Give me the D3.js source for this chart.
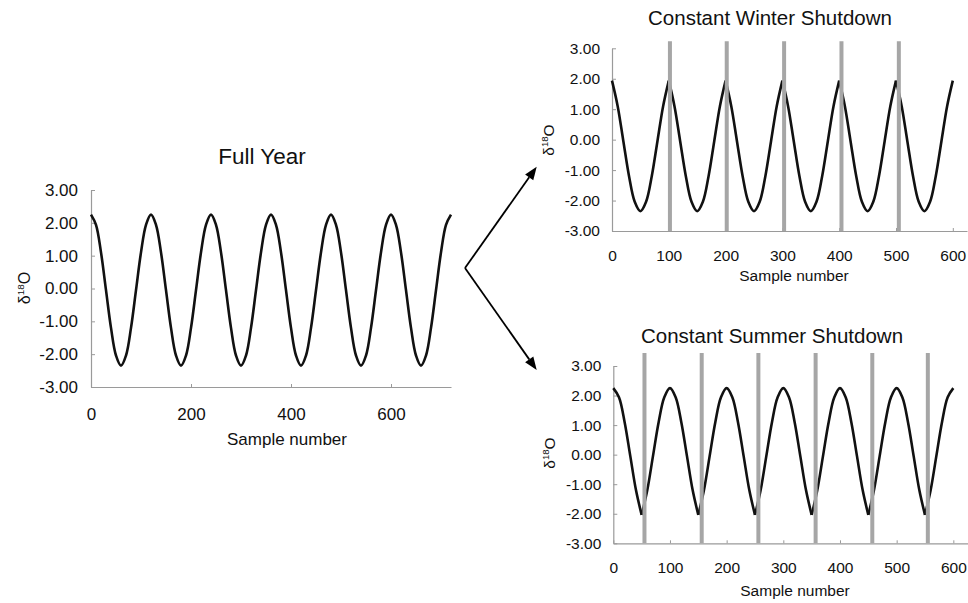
<!DOCTYPE html>
<html><head><meta charset="utf-8">
<script src="https://cdn.jsdelivr.net/npm/d3@7"></script>
<style>html,body{margin:0;padding:0;background:#fff;} svg{display:block;}</style>
</head><body><svg id="c" width="968" height="603"></svg>
<script>
// ---------- data ----------
const yTicks = [-3, -2, -1, 0, 1, 2, 3];
const fullYearXTicks = [0, 200, 400, 600];
const shutdownXTicks = [0, 100, 200, 300, 400, 500, 600];
const sampleStep = 10;

// delta18O, one value every 10 samples, samples 0..720
const fullYearValues = [
  2.25, 1.94, 1.10, -0.05, -1.20, -2.04, -2.35, -2.04, -1.20, -0.05, 1.10, 1.94,
  2.25, 1.94, 1.10, -0.05, -1.20, -2.04, -2.35, -2.04, -1.20, -0.05, 1.10, 1.94,
  2.25, 1.94, 1.10, -0.05, -1.20, -2.04, -2.35, -2.04, -1.20, -0.05, 1.10, 1.94,
  2.25, 1.94, 1.10, -0.05, -1.20, -2.04, -2.35, -2.04, -1.20, -0.05, 1.10, 1.94,
  2.25, 1.94, 1.10, -0.05, -1.20, -2.04, -2.35, -2.04, -1.20, -0.05, 1.10, 1.94,
  2.25, 1.94, 1.10, -0.05, -1.20, -2.04, -2.35, -2.04, -1.20, -0.05, 1.10, 1.94,
  2.25
];

// samples 0..600
const winterValues = [
  1.94, 1.10, -0.05, -1.20, -2.04, -2.35, -2.04, -1.20, -0.05, 1.10,
  1.94, 1.10, -0.05, -1.20, -2.04, -2.35, -2.04, -1.20, -0.05, 1.10,
  1.94, 1.10, -0.05, -1.20, -2.04, -2.35, -2.04, -1.20, -0.05, 1.10,
  1.94, 1.10, -0.05, -1.20, -2.04, -2.35, -2.04, -1.20, -0.05, 1.10,
  1.94, 1.10, -0.05, -1.20, -2.04, -2.35, -2.04, -1.20, -0.05, 1.10,
  1.94, 1.10, -0.05, -1.20, -2.04, -2.35, -2.04, -1.20, -0.05, 1.10,
  1.94
];
const winterBreaks = [100, 200, 300, 400, 500];
const winterShutdowns = [102, 202, 303, 404, 505];

// samples 0..600
const summerValues = [
  2.25, 1.94, 1.10, -0.05, -1.20, -2.04, -1.20, -0.05, 1.10, 1.94,
  2.25, 1.94, 1.10, -0.05, -1.20, -2.04, -1.20, -0.05, 1.10, 1.94,
  2.25, 1.94, 1.10, -0.05, -1.20, -2.04, -1.20, -0.05, 1.10, 1.94,
  2.25, 1.94, 1.10, -0.05, -1.20, -2.04, -1.20, -0.05, 1.10, 1.94,
  2.25, 1.94, 1.10, -0.05, -1.20, -2.04, -1.20, -0.05, 1.10, 1.94,
  2.25, 1.94, 1.10, -0.05, -1.20, -2.04, -1.20, -0.05, 1.10, 1.94,
  2.25
];
const summerBreaks = [50, 150, 250, 350, 450, 550];
const summerShutdowns = [55, 156, 256, 357, 457, 555];

const titles = ["Full Year", "Constant Winter Shutdown", "Constant Summer Shutdown"];
const xLabel = "Sample number";

// ---------- layout ----------
const FONT = "'Liberation Sans', Arial, Helvetica, sans-serif";
const panels = [
  { title: titles[0], values: fullYearValues, breaks: [], shutdowns: [], xTicks: fullYearXTicks,
    xMax: 720, left: 91, right: 451, top: 190, bottom: 387,
    tickFont: 17, titleFont: 22.5, labelFont: 17, yPad: 13, xPad: 21,
    titleX: 262, titleY: 164, xLabX: 287, xLabY: 445, yLabX: 30, yLabY: 288, yLabFont: 16, barExtra: 0 },
  { title: titles[1], values: winterValues, breaks: winterBreaks, shutdowns: winterShutdowns, xTicks: shutdownXTicks,
    xMax: 625, left: 612, right: 967, top: 48.3, bottom: 231,
    tickFont: 15.5, titleFont: 20.5, labelFont: 15.5, yPad: 12, xPad: 19,
    titleX: 770, titleY: 25, xLabX: 794, xLabY: 281, yLabX: 554, yLabY: 140, yLabFont: 15.5, barExtra: 7 },
  { title: titles[2], values: summerValues, breaks: summerBreaks, shutdowns: summerShutdowns, xTicks: shutdownXTicks,
    xMax: 625, left: 613.3, right: 967.5, top: 366, bottom: 543.3,
    tickFont: 15.5, titleFont: 20.5, labelFont: 15.5, yPad: 12, xPad: 18.5,
    titleX: 772, titleY: 343, xLabX: 795, xLabY: 596, yLabX: 555, yLabY: 453, yLabFont: 15.5, barExtra: 13 }
];

const svg = d3.select("#c");
svg.append("rect").attr("width", 968).attr("height", 603).attr("fill", "#fff");

function splitSegments(points, breaks) {
  const cuts = [0, ...breaks, Infinity];
  const segs = [];
  for (let i = 0; i < cuts.length - 1; i++) {
    const s = points.filter(p => p.x >= cuts[i] && p.x <= cuts[i + 1]);
    if (s.length > 1) segs.push(s);
  }
  return segs;
}

panels.forEach(p => {
  const g = svg.append("g");
  const x = d3.scaleLinear().domain([0, p.xMax]).range([p.left, p.right]);
  const y = d3.scaleLinear().domain([-3, 3]).range([p.bottom, p.top]);

  // axes
  const yAxis = d3.axisLeft(y).tickValues(yTicks).tickFormat(d => d.toFixed(2))
    .tickSizeInner(-4).tickSizeOuter(0).tickPadding(p.yPad);
  const xAxis = d3.axisBottom(x).tickValues(p.xTicks).tickFormat(d => String(d))
    .tickSizeInner(-3).tickSizeOuter(0).tickPadding(p.xPad);

  const ya = g.append("g").attr("transform", `translate(${p.left},0)`).call(yAxis);
  const xa = g.append("g").attr("transform", `translate(0,${p.bottom})`).call(xAxis);
  [ya, xa].forEach(a => {
    a.select(".domain").attr("stroke", "#9a9a9a").attr("stroke-width", 1.2);
    a.selectAll(".tick line").attr("stroke", "#9a9a9a").attr("stroke-width", 1);
    a.selectAll(".tick text").attr("fill", "#111").style("font-family", FONT)
      .style("font-size", p.tickFont + "px");
  });

  // curve
  const pts = p.values.map((v, i) => ({ x: i * sampleStep, y: v }));
  const line = d3.line().x(d => x(d.x)).y(d => y(d.y)).curve(d3.curveCatmullRom.alpha(0.5));
  splitSegments(pts, p.breaks).forEach(seg => {
    g.append("path").attr("d", line(seg)).attr("fill", "none")
      .attr("stroke", "#111").attr("stroke-width", 2.6).attr("stroke-linejoin", "round");
  });

  // shutdown bars
  g.selectAll(".bar").data(p.shutdowns).enter().append("line")
    .attr("x1", d => x(d)).attr("x2", d => x(d))
    .attr("y1", y(-3)).attr("y2", y(3) - p.barExtra)
    .attr("stroke", "#a6a6a6").attr("stroke-width", 4);

  // title
  g.append("text").attr("x", p.titleX).attr("y", p.titleY).attr("text-anchor", "middle")
    .style("font-family", FONT).style("font-size", p.titleFont + "px").attr("fill", "#111")
    .text(p.title);
  // x label
  g.append("text").attr("x", p.xLabX).attr("y", p.xLabY).attr("text-anchor", "middle")
    .style("font-family", FONT).style("font-size", p.labelFont + "px").attr("fill", "#111")
    .text(xLabel);
  // y label
  const yl = g.append("text").attr("transform", `translate(${p.yLabX},${p.yLabY}) rotate(-90)`)
    .attr("text-anchor", "middle").style("font-family", FONT)
    .style("font-size", p.yLabFont + "px").attr("fill", "#111");
  yl.append("tspan").text("δ");
  yl.append("tspan").attr("dy", -6).style("font-size", (p.yLabFont * 0.62) + "px").text("18");
  yl.append("tspan").attr("dy", 6).text("O");
});

// arrows
const arrowOrigin = [465, 268];
const arrowTips = [[536.7, 166.7], [536.7, 370]];
arrowTips.forEach(t => {
  const [ox, oy] = arrowOrigin, [tx, ty] = t;
  const ang = Math.atan2(ty - oy, tx - ox);
  const L = 13, W = 5;
  const bx = tx - L * Math.cos(ang), by = ty - L * Math.sin(ang);
  svg.append("line").attr("x1", ox).attr("y1", oy).attr("x2", bx).attr("y2", by)
    .attr("stroke", "#000").attr("stroke-width", 1.8);
  const px = -Math.sin(ang) * W, py = Math.cos(ang) * W;
  svg.append("polygon")
    .attr("points", `${tx},${ty} ${bx + px},${by + py} ${bx - px},${by - py}`)
    .attr("fill", "#000");
});
</script></body></html>
